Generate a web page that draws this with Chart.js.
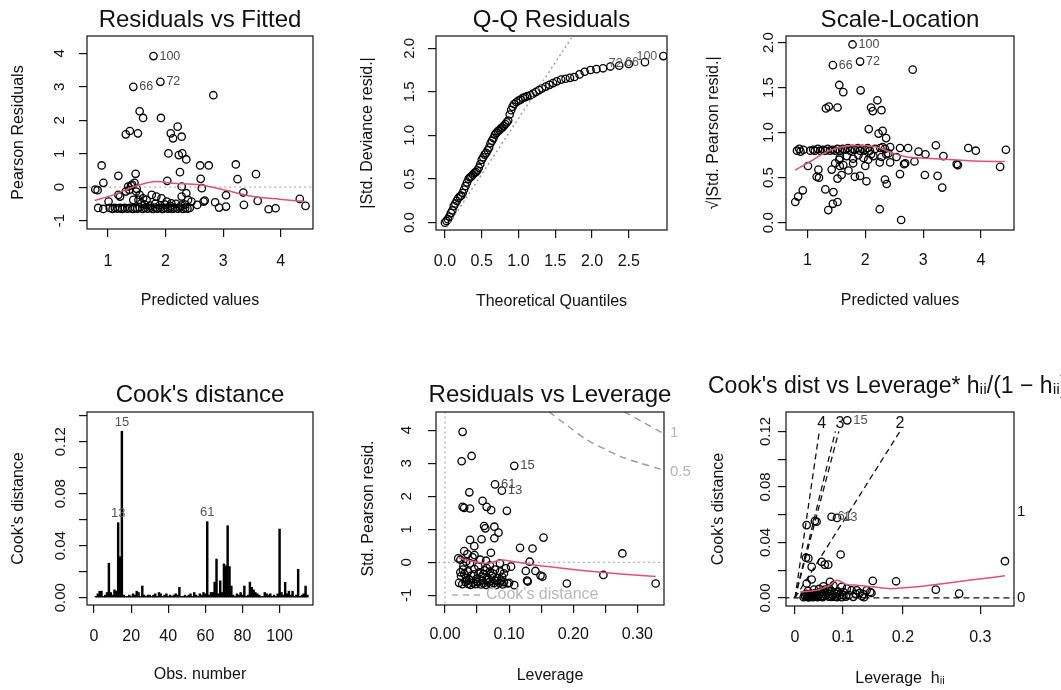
<!DOCTYPE html>
<html>
<head>
<meta charset="utf-8">
<title>lm diagnostics</title>
<script src="https://cdn.jsdelivr.net/npm/chart.js@4.4.1/dist/chart.umd.min.js"></script>
<style>
  html, body { margin: 0; padding: 0; background: #fff; }
  body { position: relative; width: 1061px; height: 690px; overflow: hidden; }
  canvas { position: absolute; }
</style>
</head>
<body>
<script>
// ---------- data ----------

// Residuals vs Fitted: [fitted, pearson residual]
const rvfPoints = [
  [1.79,3.92],[1.91,3.15],[1.44,3.00],[2.83,2.75],[1.55,2.27],[1.61,2.07],[1.92,2.07],[1.31,1.58],[1.38,1.68],[1.52,1.61],
  [2.21,1.81],[2.09,1.61],[2.13,1.46],[2.28,1.51],[2.05,1.01],[2.23,0.96],[2.29,1.01],[2.36,0.83],[0.89,0.65],[2.60,0.65],
  [2.75,0.65],[3.22,0.68],[2.25,0.45],[1.48,0.40],[1.18,0.34],[3.57,0.39],[0.92,0.13],[1.46,0.13],[1.35,0.02],[2.03,0.19],
  [2.61,0.25],[3.25,0.24],[0.78,-0.07],[0.82,-0.09],[1.31,-0.13],[2.28,0.02],[2.63,-0.03],[2.36,-0.18],[3.35,-0.16],[1.18,-0.23],
  [1.21,-0.28],[1.44,-0.38],[1.01,-0.43],[3.05,-0.24],[2.68,-0.40],[2.66,-0.43],[2.86,-0.45],[2.93,-0.61],[3.05,-0.58],[3.36,-0.53],
  [3.60,-0.41],[3.79,-0.66],[3.91,-0.63],[4.33,-0.35],[4.43,-0.56],[2.55,-0.53],[1.49,-0.13],[1.40,0.05],[1.37,-0.08],[1.42,0.08],
  [1.50,-0.05],[1.76,-0.23],[1.84,-0.28],[1.93,-0.33],[2.02,-0.43],[2.10,-0.48],[2.28,-0.28],[2.39,-0.38],[2.45,-0.43],
  [1.55,-0.23],[1.61,-0.33],[1.67,-0.38],[1.58,-0.48],[1.53,-0.38],
  [0.83,-0.62],[0.92,-0.65],[1.03,-0.62],[1.08,-0.65],[1.12,-0.62],[1.17,-0.64],[1.21,-0.62],[1.25,-0.65],[1.29,-0.62],[1.34,-0.64],
  [1.38,-0.62],[1.43,-0.65],[1.47,-0.62],[1.51,-0.64],[1.55,-0.61],[1.60,-0.65],[1.64,-0.62],[1.69,-0.64],[1.73,-0.62],[1.78,-0.65],
  [1.82,-0.61],[1.86,-0.64],[1.90,-0.62],[1.95,-0.65],[1.99,-0.62],[2.04,-0.64],[2.08,-0.62],[2.12,-0.65],[2.16,-0.62],[2.21,-0.64],
  [2.25,-0.61],[2.30,-0.65],[2.34,-0.62],[2.38,-0.64],[2.42,-0.62],
  [1.64,-0.52],[1.73,-0.55],[1.82,-0.50],[1.90,-0.54],[1.99,-0.52],[2.08,-0.56],[2.18,-0.50],[2.27,-0.55],[2.34,-0.52]
];
const rvfSmooth = [[0.77,-0.40],[1.09,-0.23],[1.38,-0.03],[1.55,0.07],[1.82,0.17],[2.13,0.12],[2.60,0.07],[3.06,-0.10],[3.52,-0.28],[3.98,-0.36],[4.43,-0.43]];
const rvfZero = [[0.5,0],[4.7,0]];
const rvfIds = [["100",1.79,3.92],["72",1.91,3.15],["66",1.44,3.00]];

// Q-Q Residuals (half-normal): [theoretical quantile, |std deviance resid|]
const qqPoints = [
  [0.00,0.00],[0.02,0.02],[0.04,0.04],[0.06,0.07],[0.08,0.11],[0.10,0.14],[0.12,0.19],[0.14,0.22],[0.16,0.25],[0.18,0.28],
  [0.20,0.30],[0.22,0.31],[0.24,0.34],[0.26,0.38],[0.28,0.42],[0.30,0.46],[0.32,0.50],[0.34,0.52],[0.36,0.53],[0.38,0.55],
  [0.40,0.57],[0.42,0.58],[0.44,0.60],[0.46,0.63],[0.48,0.67],[0.50,0.72],[0.52,0.75],[0.54,0.78],[0.56,0.80],[0.58,0.83],
  [0.60,0.86],[0.62,0.91],[0.64,0.94],[0.66,0.97],[0.68,1.01],[0.70,1.03],[0.72,1.05],[0.74,1.06],[0.76,1.08],[0.78,1.09],
  [0.80,1.11],[0.82,1.13],[0.84,1.15],[0.86,1.17],[0.88,1.24],[0.90,1.29],[0.92,1.33],[0.94,1.36],[0.97,1.38],[1.00,1.40],
  [1.03,1.41],[1.06,1.43],[1.09,1.44],[1.12,1.45],[1.16,1.46],[1.20,1.48],[1.24,1.50],[1.28,1.52],[1.32,1.54],[1.37,1.56],
  [1.42,1.58],[1.47,1.60],[1.52,1.62],[1.58,1.64],[1.64,1.65],[1.70,1.66],[1.76,1.67],[1.83,1.70],[1.90,1.73],[1.98,1.75],
  [2.06,1.76],[2.15,1.77],[2.25,1.79],[2.37,1.80],[2.50,1.82],[2.72,1.84],[2.97,1.91]
];
const qqRef = [[-0.05,-0.15],[1.80,2.22]];
const qqIds = [["100",2.97,1.91],["66",2.72,1.84],["72",2.50,1.82]];

// Scale-Location: [fitted, sqrt|std pearson resid|]
const slPoints = [
  [1.78,1.98],[1.91,1.79],[1.44,1.75],[2.82,1.70],[1.55,1.53],[1.62,1.45],[1.92,1.47],[1.32,1.27],[1.37,1.29],[1.52,1.28],
  [2.21,1.36],[2.10,1.28],[2.13,1.24],[2.28,1.25],[2.06,1.04],[2.23,0.99],[2.30,1.02],[2.36,0.94],[1.01,0.63],[1.19,0.59],
  [1.16,0.51],[1.20,0.50],[1.31,0.37],[1.36,0.14],[1.44,0.21],[1.45,0.34],[1.52,0.23],[0.79,0.23],[0.84,0.29],[0.92,0.36],
  [2.25,0.15],[2.62,0.03],[2.60,0.54],[2.34,0.48],[2.37,0.43],[3.03,0.53],[3.25,0.52],[3.33,0.39],[1.42,0.59],[1.48,0.66],
  [1.52,0.49],[1.59,0.53],[1.71,0.58],[1.82,0.51],[1.91,0.52],[2.02,0.46],[1.56,0.63],[1.55,0.70],[1.62,0.64],[1.79,0.66],
  [2.00,0.63],[2.25,0.67],[2.43,0.67],[2.67,0.65],[2.69,0.66],[2.85,0.68],[2.54,0.73],[2.40,0.77],[2.92,0.79],[3.04,0.76],
  [3.35,0.74],[3.22,0.86],[3.58,0.65],[3.60,0.64],[3.78,0.83],[3.91,0.80],[4.33,0.62],[4.43,0.81],[2.60,0.83],[2.74,0.83],
  [0.82,0.80],[0.86,0.82],[0.88,0.79],[0.93,0.81],[1.05,0.80],[1.10,0.81],[1.13,0.80],[1.18,0.82],[1.22,0.80],[1.27,0.81],
  [1.31,0.80],[1.35,0.82],[1.39,0.80],[1.44,0.81],[1.48,0.80],[1.52,0.82],[1.56,0.80],[1.61,0.82],[1.65,0.81],[1.70,0.83],
  [1.74,0.80],[1.78,0.82],[1.82,0.81],[1.87,0.83],[1.91,0.80],[1.95,0.82],[2.00,0.81],[2.04,0.83],[2.08,0.80],[2.17,0.82],
  [2.26,0.83],[2.30,0.84],[2.34,0.82],[2.43,0.84],
  [1.56,0.72],[1.68,0.74],[1.79,0.71],[1.88,0.75],[1.97,0.72],[2.05,0.70],[2.14,0.74],[2.28,0.73],[2.10,0.76],[2.36,0.76]
];
const slSmooth = [[0.79,0.585],[1.05,0.68],[1.28,0.77],[1.51,0.83],[1.74,0.855],[2.02,0.855],[2.25,0.83],[2.49,0.77],[2.72,0.73],[3.06,0.715],[3.52,0.70],[3.87,0.685],[4.41,0.68]];
const slIds = [["100",1.78,1.98],["72",1.91,1.79],["66",1.44,1.75]];

// Cook's distance by observation number 1..115
const cookD = [
  0.001,0.003,0.005,0.005,0.001,0.002,0.004,0.0265,0.004,0.002,
  0.006,0.005,0.0577,0.0315,0.128,0.002,0.001,0.001,0.002,0.001,
  0.003,0.002,0.005,0.004,0.001,0.009,0.002,0.001,0.002,0.002,
  0.001,0.002,0.003,0.001,0.004,0.003,0.001,0.002,0.003,0.001,
  0.002,0.001,0.002,0.003,0.002,0.008,0.001,0.001,0.002,0.001,
  0.002,0.003,0.001,0.004,0.002,0.001,0.003,0.002,0.004,0.003,
  0.0585,0.002,0.004,0.004,0.012,0.0297,0.003,0.013,0.004,0.026,
  0.0245,0.0554,0.024,0.009,0.002,0.001,0.003,0.002,0.004,0.002,
  0.009,0.001,0.002,0.012,0.008,0.006,0.004,0.003,0.002,0.001,
  0.001,0.004,0.003,0.002,0.003,0.001,0.002,0.001,0.003,0.0528,
  0.004,0.002,0.0118,0.003,0.005,0.002,0.005,0.001,0.002,0.0218,
  0.001,0.002,0.003,0.009,0.002
];
const cookIds = [["15",15,0.128],["13",13,0.0577],["61",61,0.0585]];

// Residuals vs Leverage: [leverage, std pearson resid]
const rvlPoints = [
  [0.0275,3.95],[0.026,3.06],[0.0415,3.22],[0.108,2.92],[0.078,2.36],[0.0887,2.17],[0.038,2.12],[0.0586,1.86],[0.065,1.68],[0.072,1.58],
  [0.0275,1.68],[0.030,1.65],[0.039,1.63],[0.0965,1.56],[0.061,1.10],[0.063,1.03],[0.077,1.08],[0.0835,0.90],[0.077,0.73],[0.039,0.68],
  [0.057,0.70],[0.0457,0.49],[0.1536,0.75],[0.117,0.44],[0.1365,0.42],[0.0716,0.29],[0.030,0.34],[0.046,0.22],[0.0207,0.12],[0.2766,0.27],
  [0.132,0.02],[0.0856,-0.03],[0.039,-0.03],[0.064,0.05],[0.126,-0.26],[0.141,-0.26],[0.128,-0.55],[0.129,-0.58],[0.149,-0.40],[0.152,-0.43],
  [0.19,-0.64],[0.247,-0.38],[0.3285,-0.64],[0.0976,-0.64],[0.108,-0.69],[0.095,-0.18],[0.103,-0.13],[0.092,-0.33],
  [0.022,-0.62],[0.027,-0.66],[0.032,-0.60],[0.036,-0.65],[0.040,-0.68],[0.044,-0.62],[0.048,-0.66],[0.052,-0.60],[0.056,-0.67],[0.060,-0.63],
  [0.064,-0.68],[0.068,-0.61],[0.072,-0.66],[0.076,-0.63],[0.080,-0.68],[0.085,-0.62],[0.090,-0.67],[0.034,-0.55],[0.058,-0.55],[0.082,-0.56],
  [0.025,-0.42],[0.033,-0.47],[0.041,-0.40],[0.049,-0.50],[0.057,-0.44],[0.065,-0.48],[0.073,-0.41],[0.081,-0.47],[0.089,-0.44],
  [0.028,-0.22],[0.036,-0.28],[0.046,-0.20],[0.054,-0.30],[0.062,-0.24],[0.070,-0.28],[0.078,-0.22],
  [0.024,0.08],[0.033,0.02],[0.043,0.15],[0.029,-0.10],[0.052,-0.12],[0.070,-0.10],
  [0.030,-0.35],[0.045,-0.36],[0.060,-0.35],[0.075,-0.34],[0.087,-0.55],[0.024,-0.30],[0.038,-0.52],[0.050,-0.58],[0.066,-0.53],[0.070,-0.58],
  [0.078,-0.55],[0.086,-0.28],[0.092,-0.60],[0.100,-0.62],[0.055,0.08],[0.065,-0.17],[0.035,0.25]
];
const rvlSmooth = [[0.022,0.13],[0.0457,0.02],[0.066,-0.03],[0.087,0.07],[0.108,0.02],[0.139,-0.08],[0.17,-0.15],[0.222,-0.26],[0.274,-0.35],[0.3285,-0.43]];
const rvlZeroH = [[-0.05,0],[0.4,0]];
const rvlZeroV = [[0,-2],[0,5]];
const cookHalf = [[0.162,4.56],[0.19,4.15],[0.222,3.70],[0.25,3.42],[0.274,3.20],[0.30,3.03],[0.336,2.82],[0.345,2.77]];
const cookOne = [[0.279,4.56],[0.308,4.25],[0.336,3.95],[0.345,3.87]];
const rvlIds = [["15",0.108,2.92],["61",0.078,2.36],["13",0.0887,2.17]];
const rvlRightAt = [3.91, 2.75];
const rvlRightText = ["1", "0.5"];

// Cook's dist vs Leverage: [h/(1-h) axis position, cook's distance]
const cvlPoints = [
  [0.121,0.128],[0.0973,0.0577],[0.0846,0.0585],[0.027,0.0525],[0.046,0.0554],[0.050,0.0550],[0.0255,0.029],[0.031,0.0285],[0.1057,0.0313],[0.0617,0.026],
  [0.069,0.024],[0.077,0.024],[0.0386,0.0224],[0.027,0.0104],[0.0386,0.0133],[0.180,0.0123],[0.234,0.012],[0.326,0.006],[0.380,0.0031],[0.486,0.0265],
  [0.081,0.0116],[0.089,0.009],[0.066,0.0084],[0.12,0.0067],[0.131,0.0055],[0.143,0.0055],[0.150,0.0036],[0.158,0.0027],[0.166,0.0055],[0.174,0.0043],
  [0.177,0.0036],[0.112,0.0043],[0.108,0.008],
  [0.020,0.0005],[0.022,0.002],[0.024,0.001],[0.026,0.003],[0.028,0.0008],[0.030,0.002],[0.032,0.0004],[0.034,0.0015],[0.036,0.003],[0.038,0.001],
  [0.040,0.0025],[0.042,0.0005],[0.044,0.0018],[0.046,0.0035],[0.048,0.001],[0.050,0.0025],[0.052,0.0006],[0.055,0.002],[0.058,0.004],[0.060,0.001],
  [0.063,0.003],[0.066,0.0015],[0.069,0.0045],[0.072,0.002],[0.075,0.0035],[0.078,0.001],[0.081,0.003],[0.084,0.005],[0.087,0.002],[0.090,0.004],
  [0.093,0.001],[0.096,0.003],[0.100,0.0045],[0.104,0.002],[0.108,0.0005],[0.112,0.002],[0.118,0.001],[0.125,0.002],[0.135,0.0008],[0.140,0.003],
  [0.155,0.0012],[0.160,0.0005],[0.030,0.005],[0.044,0.006],[0.056,0.0065],[0.070,0.006],[0.080,0.0065],[0.064,0.0005],[0.085,0.0008],[0.097,0.0006]
];
const cvlSmooth = [[0.0116,0.0043],[0.05,0.0055],[0.081,0.0092],[0.0965,0.0128],[0.12,0.0096],[0.143,0.0092],[0.181,0.008],[0.22,0.0067],[0.2816,0.008],[0.359,0.011],[0.436,0.014],[0.486,0.016]];
const contour4 = [[0,0],[0.0563,0.12]];
const contour3a = [[0,0],[0.0935,0.12]];
const contour3b = [[0,0],[0.1015,0.12]];
const contour2 = [[0,0],[0.243,0.12]];
const contour0 = [[-0.05,0],[0.55,0]];
const contourTags = [["4",0.0617,0.126],["3",0.104,0.126],["2",0.243,0.126]];
const cvlIds = [["15",0.121,0.128],["61",0.0846,0.0585],["13",0.0973,0.0577]];
const cvlRightAt = [0.0622, 0];
const cvlRightText = ["1", "0"];

// tick values and labels
const fitTicks = [1, 2, 3, 4];
const fitTickText = ["1", "2", "3", "4"];
const resTicks = [-1, 0, 1, 2, 3, 4];
const resTickText = ["-1", "0", "1", "2", "3", "4"];
const qTicks = [0, 0.5, 1, 1.5, 2, 2.5];
const qTickText = ["0.0", "0.5", "1.0", "1.5", "2.0", "2.5"];
const halfTicks = [0, 0.5, 1, 1.5, 2];
const halfTickText = ["0.0", "0.5", "1.0", "1.5", "2.0"];
const obsTicks = [0, 20, 40, 60, 80, 100];
const obsTickText = ["0", "20", "40", "60", "80", "100"];
const cookTicks = [0, 0.02, 0.04, 0.06, 0.08, 0.10, 0.12, 0.14];
const cookTickText = ["0.00", "", "0.04", "", "0.08", "", "0.12", ""];
const levTicks = [0, 0.05, 0.10, 0.15, 0.20, 0.25, 0.30];
const levTickText = ["0.00", "", "0.10", "", "0.20", "", "0.30"];
const gTicks = [0, 0.111, 0.25, 0.429];
const gTickText = ["0", "0.1", "0.2", "0.3"];

// ---------- drawing ----------
const FONT = "'Liberation Sans', Arial, Helvetica, sans-serif";
const INK = "#111";
const LOESS = "#DF536B";
const X_TICK_FONT = 16;
const Y_TICK_FONT = 15;
const AXIS_TITLE = 16;
const TICK_LEN = 8;

Chart.defaults.font.family = FONT;
Chart.defaults.color = INK;

const measureCtx = document.createElement("canvas").getContext("2d");
function widest(labels, size) {
  measureCtx.font = size + "px " + FONT;
  return Math.max(...labels.map(t => measureCtx.measureText(t).width));
}

const xy = pts => pts.map(([x, y]) => ({ x, y }));

function scatterSet(pts) {
  return {
    data: xy(pts), showLine: false, pointStyle: "circle",
    pointRadius: 3.7, pointHoverRadius: 3.7, pointBorderWidth: 1.3, pointHoverBorderWidth: 1.3,
    pointBorderColor: "#000", pointBackgroundColor: "rgba(0,0,0,0)"
  };
}

function lineSet(pts, color, width, dash, smooth) {
  return {
    data: xy(pts), showLine: true, pointRadius: 0, pointHoverRadius: 0,
    borderColor: color, borderWidth: width, borderDash: dash || [],
    tension: smooth ? 0.3 : 0, fill: false, clip: 0
  };
}

const framePlugin = {
  id: "frame",
  afterDatasetsDraw(chart) {
    const { ctx, chartArea: a } = chart;
    ctx.save();
    ctx.strokeStyle = INK;
    ctx.lineWidth = 1.2;
    ctx.strokeRect(a.left, a.top, a.right - a.left, a.bottom - a.top);
    ctx.restore();
  }
};

// text tags anchored to data values
function tagPlugin(items, pos, size, color) {
  return {
    id: "tags",
    afterDatasetsDraw(chart) {
      const { ctx, scales } = chart;
      ctx.save();
      ctx.font = size + "px " + FONT;
      ctx.fillStyle = color;
      ctx.textBaseline = "middle";
      items.forEach(([text, vx, vy]) => {
        let px = scales.x.getPixelForValue(vx);
        let py = scales.y.getPixelForValue(vy);
        if (pos === "right") { ctx.textAlign = "left"; px += 6; }
        else if (pos === "left") { ctx.textAlign = "right"; px -= 6; }
        else { ctx.textAlign = "center"; if (pos === "above") py -= 9; }
        ctx.fillText(text, px, py);
      });
      ctx.restore();
    }
  };
}

const cookLegendPlugin = {
  id: "cookLegend",
  afterDatasetsDraw(chart) {
    const { ctx, chartArea: a } = chart;
    const y = a.bottom - 10;
    ctx.save();
    ctx.strokeStyle = "#b0b0b0";
    ctx.lineWidth = 1.3;
    ctx.setLineDash([6, 5]);
    ctx.beginPath();
    ctx.moveTo(a.left + 16, y);
    ctx.lineTo(a.left + 46, y);
    ctx.stroke();
    ctx.font = "16px " + FONT;
    ctx.fillStyle = "#b8b8b8";
    ctx.textAlign = "left";
    ctx.textBaseline = "middle";
    ctx.fillText("Cook's distance", a.left + 50, y);
    ctx.restore();
  }
};

function drawPanel(p) {
  const ROW_H = 330, SIDE = 88;
  const [bl, bt, br, bb] = p.box;
  const canvasLeft = p.canvasLeft !== undefined ? p.canvasLeft : bl - SIDE;
  const yW = bl - canvasLeft;
  const cv = document.createElement("canvas");
  cv.width = yW + (br - bl) + SIDE;
  cv.height = ROW_H;
  cv.style.left = canvasLeft + "px";
  cv.style.top = p.rowTop + "px";
  document.body.appendChild(cv);

  const tLh = p.titleSize * 1.2;
  const tTop = p.titleMid - p.rowTop - tLh / 2;
  const tBottom = bt - p.rowTop - tTop - tLh;
  const xH = p.xTitleMid - bb + AXIS_TITLE * 0.6;
  const padBottom = ROW_H - (bb - p.rowTop) - xH;
  const yPad = p.yGap - TICK_LEN - widest(p.yText, Y_TICK_FONT) / 2;
  const xPad = p.xGap - TICK_LEN - X_TICK_FONT * 0.6;
  const yTitlePad = yW - p.yTitleGap - AXIS_TITLE * 0.6;

  const tickGrid = {
    display: true, drawOnChartArea: false, drawTicks: true, tickLength: TICK_LEN,
    color: INK, lineWidth: 1.2, offset: false
  };
  const right = p.right || { at: [], text: [], color: INK, pad: 4 };

  new Chart(cv, {
    type: p.type || "scatter",
    data: { datasets: p.datasets },
    options: {
      responsive: false,
      animation: false,
      events: [],
      layout: { padding: { top: 0, left: 0, right: 0, bottom: padBottom } },
      plugins: {
        legend: { display: false },
        tooltip: { enabled: false },
        title: {
          display: true, text: p.title, align: p.titleAlign || "center", color: INK,
          font: { size: p.titleSize, weight: "normal" },
          padding: { top: tTop, bottom: tBottom }
        }
      },
      scales: {
        x: {
          type: "linear", position: "bottom", min: p.xRange[0], max: p.xRange[1], offset: false,
          grid: tickGrid, border: { display: false },
          afterBuildTicks: s => { s.ticks = p.xTicks.map(v => ({ value: v })); },
          afterFit: s => { s.height = xH; },
          ticks: {
            autoSkip: false, maxRotation: 0, minRotation: 0, padding: xPad, color: INK,
            font: { size: X_TICK_FONT }, callback: (v, i) => p.xText[i]
          },
          title: { display: true, text: p.xTitle, color: INK, font: { size: AXIS_TITLE }, padding: { top: 0, bottom: 0 } }
        },
        y: {
          type: "linear", position: "left", min: p.yRange[0], max: p.yRange[1],
          grid: tickGrid, border: { display: false },
          afterBuildTicks: s => { s.ticks = p.yTicks.map(v => ({ value: v })); },
          afterFit: s => { s.width = yW; },
          ticks: {
            autoSkip: false, minRotation: 90, maxRotation: 90, crossAlign: "center", padding: yPad,
            color: INK, font: { size: Y_TICK_FONT }, callback: (v, i) => p.yText[i]
          },
          title: { display: true, text: p.yTitle, color: INK, font: { size: AXIS_TITLE }, padding: { top: yTitlePad, bottom: 0 } }
        },
        y2: {
          type: "linear", position: "right", min: p.yRange[0], max: p.yRange[1],
          grid: { display: false, drawTicks: false }, border: { display: false },
          afterBuildTicks: s => { s.ticks = right.at.map(v => ({ value: v })); },
          afterFit: s => { s.width = SIDE; },
          ticks: {
            display: right.at.length > 0, autoSkip: false, padding: right.pad, color: right.color,
            font: { size: Y_TICK_FONT }, callback: (v, i) => right.text[i]
          }
        }
      }
    },
    plugins: [framePlugin].concat(p.plugins || [])
  });
}

const GRAY_DOT = "#b4b4b4";

drawPanel({
  box: [87, 36, 313, 229], rowTop: 0,
  title: "Residuals vs Fitted", titleSize: 24, titleMid: 20.5,
  xTitle: "Predicted values", xTitleMid: 301, xGap: 33,
  yTitle: "Pearson Residuals", yTitleGap: 68, yGap: 27,
  xRange: [0.636, 4.56], yRange: [-1.25, 4.52],
  xTicks: fitTicks, xText: fitTickText, yTicks: resTicks, yText: resTickText,
  datasets: [
    lineSet(rvfSmooth, LOESS, 1.5, null, true),
    scatterSet(rvfPoints),
    lineSet(rvfZero, GRAY_DOT, 1.3, [2, 3])
  ],
  plugins: [tagPlugin(rvfIds, "right", 12.5, "#4a4a4a")]
});

drawPanel({
  box: [436, 36, 667, 230], rowTop: 0,
  title: "Q-Q Residuals", titleSize: 24, titleMid: 20.3,
  xTitle: "Theoretical Quantiles", xTitleMid: 302, xGap: 32,
  yTitle: "|Std. Deviance resid.|", yTitleGap: 68, yGap: 26,
  xRange: [-0.122, 3.02], yRange: [-0.084, 2.14],
  xTicks: qTicks, xText: qTickText, yTicks: halfTicks, yText: halfTickText,
  datasets: [
    lineSet(qqRef, "#999", 1.4, [2, 3]),
    scatterSet(qqPoints)
  ],
  plugins: [tagPlugin(qqIds, "left", 12.5, "#5a5a5a")]
});

drawPanel({
  box: [786, 36, 1014, 230], rowTop: 0,
  title: "Scale-Location", titleSize: 24, titleMid: 20.3,
  xTitle: "Predicted values", xTitleMid: 301, xGap: 31,
  yTitle: "\u221A|Std. Pearson resid.|", yTitleGap: 72, yGap: 17,
  xRange: [0.63, 4.57], yRange: [-0.081, 2.074],
  xTicks: fitTicks, xText: fitTickText, yTicks: halfTicks, yText: halfTickText,
  datasets: [
    lineSet(slSmooth, LOESS, 1.5, null, true),
    scatterSet(slPoints)
  ],
  plugins: [tagPlugin(slIds, "right", 12.5, "#4a4a4a")]
});

drawPanel({
  type: "bar",
  box: [87, 412, 313, 605], rowTop: 360,
  title: "Cook's distance", titleSize: 24, titleMid: 395,
  xTitle: "Obs. number", xTitleMid: 674.5, xGap: 32,
  yTitle: "Cook's distance", yTitleGap: 68, yGap: 26,
  xRange: [-3.8, 118], yRange: [-0.0056, 0.1428],
  xTicks: obsTicks, xText: obsTickText, yTicks: cookTicks, yText: cookTickText,
  datasets: [{
    data: cookD.map((v, i) => ({ x: i + 1, y: v })),
    backgroundColor: "#000", borderWidth: 0, barThickness: 1.8
  }],
  plugins: [tagPlugin(cookIds, "above", 13, "#555")]
});

drawPanel({
  box: [436, 412, 664, 605], rowTop: 360,
  title: "Residuals vs Leverage", titleSize: 24, titleMid: 395,
  xTitle: "Leverage", xTitleMid: 676, xGap: 29.5,
  yTitle: "Std. Pearson resid.", yTitleGap: 67, yGap: 29,
  xRange: [-0.014, 0.3415], yRange: [-1.29, 4.55],
  xTicks: levTicks, xText: levTickText, yTicks: resTicks, yText: resTickText,
  right: { at: rvlRightAt, text: rvlRightText, color: "#b4b4b4", pad: 6 },
  datasets: [
    lineSet(rvlSmooth, LOESS, 1.5, null, true),
    scatterSet(rvlPoints),
    lineSet(rvlZeroH, GRAY_DOT, 1.3, [2, 3]),
    lineSet(rvlZeroV, GRAY_DOT, 1.3, [2, 3]),
    lineSet(cookHalf, "#9a9a9a", 1.4, [7, 5], true),
    lineSet(cookOne, "#9a9a9a", 1.4, [7, 5], true)
  ],
  plugins: [tagPlugin(rvlIds, "right", 13, "#4a4a4a"), cookLegendPlugin]
});

drawPanel({
  box: [786, 412, 1014, 606], rowTop: 360, canvasLeft: 708,
  title: "Cook's dist vs Leverage* h\u1D62\u1D62/(1 \u2212 h\u1D62\u1D62)", titleSize: 23, titleMid: 387,
  titleAlign: "start",
  xTitle: "Leverage  h\u1D62\u1D62", xTitleMid: 679, xGap: 32,
  yTitle: "Cook's distance", yTitleGap: 67, yGap: 20,
  xRange: [-0.0208, 0.507], yRange: [-0.0058, 0.134],
  xTicks: gTicks, xText: gTickText, yTicks: cookTicks.slice(0, 7), yText: cookTickText.slice(0, 7),
  right: { at: cvlRightAt, text: cvlRightText, color: INK, pad: 3 },
  datasets: [
    lineSet(cvlSmooth, LOESS, 1.5, null, true),
    scatterSet(cvlPoints),
    lineSet(contour4, INK, 1.3, [6, 4]),
    lineSet(contour3a, INK, 1.3, [6, 4]),
    lineSet(contour3b, INK, 1.3, [6, 4]),
    lineSet(contour2, INK, 1.3, [6, 4]),
    lineSet(contour0, INK, 1.3, [6, 4])
  ],
  plugins: [tagPlugin(cvlIds, "right", 13, "#555"), tagPlugin(contourTags, "center", 16, INK)]
});
</script>
</body>
</html>
